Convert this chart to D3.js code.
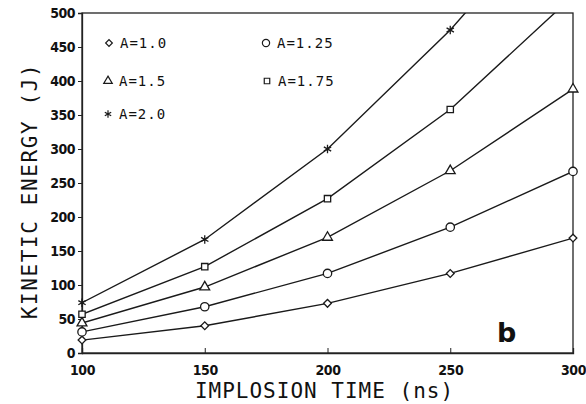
<!DOCTYPE html>
<html>
<head>
<meta charset="utf-8">
<script src="https://cdn.jsdelivr.net/npm/d3@7"></script>
<style>
  body { margin: 0; background: #fff; }
  svg text { font-family: "DejaVu Sans Mono", monospace; fill: #111; }
</style>
</head>
<body>
<div id="container"></div>
<script>
// implosion time (ns)
var times = [100, 150, 200, 250, 300];

// kinetic energy (J), one list per A value
var a100 = [19, 40, 73, 117, 169];
var a125 = [31, 68, 117, 185, 267];
var a150 = [44, 97, 170, 268, 388];
var a175 = [57, 127, 227, 358, 525];
var a200 = [74, 167, 300, 475, 680];

var xTicks = [100, 150, 200, 250, 300];
var yTicks = [0, 50, 100, 150, 200, 250, 300, 350, 400, 450, 500];

var series = [
    {label: "A=1.0",  values: a100, sym: "diamond",  lx: 109, ly: 43},
    {label: "A=1.25", values: a125, sym: "circle",   lx: 266, ly: 43},
    {label: "A=1.5",  values: a150, sym: "triangle", lx: 108, ly: 81},
    {label: "A=1.75", values: a175, sym: "square",   lx: 267, ly: 81},
    {label: "A=2.0",  values: a200, sym: "star",     lx: 108, ly: 114}
]

var W = 586, H = 404;
// plot box (window.top is read-only, so no plain "top")
var pL = 82, pR = 573, pT = 13, pB = 353;

var svg = d3.select("#container").append("svg")
    .attr("width", W)
    .attr("height", H)

var x = d3.scaleLinear().domain([100, 300]).range([pL, pR])
var y = d3.scaleLinear().domain([0, 500]).range([pB, pT])

svg.append("clipPath").attr("id", "plot")
    .append("rect")
    .attr("x", pL).attr("y", pT)
    .attr("width", pR - pL).attr("height", pB - pT)

// frame
svg.append("rect")
    .attr("x", pL).attr("y", pT)
    .attr("width", pR - pL).attr("height", pB - pT)
    .attr("fill", "none")
    .attr("stroke", "#222")
    .attr("stroke-width", 1.3)

// axes
var xAxis = svg.append("g")
    .attr("transform", "translate(0," + pB + ")")
    .call(d3.axisBottom(x).tickValues(xTicks).tickSize(-5).tickPadding(12).tickFormat(d3.format("d")))
var yAxis = svg.append("g")
    .attr("transform", "translate(" + pL + ",0)")
    .call(d3.axisLeft(y).tickValues(yTicks).tickSize(4).tickPadding(3).tickFormat(d3.format("d")))

;[xAxis, yAxis].forEach(function(g) {
    g.select(".domain").attr("stroke", "#222").attr("stroke-width", 1.3)
    g.selectAll(".tick line").attr("stroke", "#222")
    g.selectAll("text")
        .style("font-family", "'Liberation Sans Narrow', 'DejaVu Sans Condensed', sans-serif")
        .style("font-size", "14px")
        .style("font-weight", "bold")
        .attr("fill", "#111")
        .attr("letter-spacing", -0.5)
})

// axis titles
svg.append("text")
    .attr("x", (pL + pR) / 2 - 3)
    .attr("y", 398)
    .attr("text-anchor", "middle")
    .style("font-size", "21px")
    .attr("letter-spacing", 1)
    .text("IMPLOSION TIME (ns)")

svg.append("text")
    .attr("transform", "translate(37," + ((pT + pB) / 2 + 8) + ") rotate(-90)")
    .attr("text-anchor", "middle")
    .style("font-size", "21px")
    .attr("letter-spacing", 1.6)
    .text("KINETIC ENERGY (J)")

// curves
var line = d3.line()
    .x(function(d, i) { return x(times[i]) })
    .y(function(d) { return y(d) })

var curves = svg.append("g").attr("clip-path", "url(#plot)")
series.forEach(function(s) {
    curves.append("path")
        .attr("d", line(s.values))
        .attr("fill", "none")
        .attr("stroke", "#1a1a1a")
        .attr("stroke-width", 1.4)
})

function symbolPath(name, size) {
    var t = {
        diamond: d3.symbolSquare,   // drawn rotated 45deg
        circle: d3.symbolCircle,
        triangle: d3.symbolTriangle,
        square: d3.symbolSquare,
        star: d3.symbolAsterisk
    }[name]
    return d3.symbol().type(t).size(size)()
}

var sizes = {diamond: 30, circle: 55, triangle: 42, square: 40, star: 50}
var rot = {diamond: 45, circle: 0, triangle: 0, square: 0, star: 0}

series.forEach(function(s) {
    var pts = s.values.map(function(v, i) { return {t: times[i], v: v} })
        .filter(function(d) { return d.v <= 500 })
    svg.append("g").selectAll("path")
        .data(pts)
        .enter().append("path")
        .attr("transform", function(d) {
            return "translate(" + x(d.t) + "," + y(d.v) + ") rotate(" + rot[s.sym] + ")"
        })
        .attr("d", symbolPath(s.sym, sizes[s.sym]))
        .attr("fill", "#fff")
        .attr("stroke", "#1a1a1a")
        .attr("stroke-width", 1.3)

    // legend entry
    svg.append("path")
        .attr("transform", "translate(" + s.lx + "," + s.ly + ") rotate(" + rot[s.sym] + ")")
        .attr("d", symbolPath(s.sym, sizes[s.sym] * 0.75))
        .attr("fill", "#fff")
        .attr("stroke", "#1a1a1a")
        .attr("stroke-width", 1.2)
    svg.append("text")
        .attr("x", s.lx + 11)
        .attr("y", s.ly + 5)
        .style("font-size", "14px")
        .attr("letter-spacing", 1)
        .text(s.label)
})

// panel letter
svg.append("text")
    .attr("x", 497)
    .attr("y", 342)
    .style("font-family", "'DejaVu Sans', sans-serif")
    .style("font-size", "27px")
    .style("font-weight", "bold")
    .text("b")
</script>
</body>
</html>
